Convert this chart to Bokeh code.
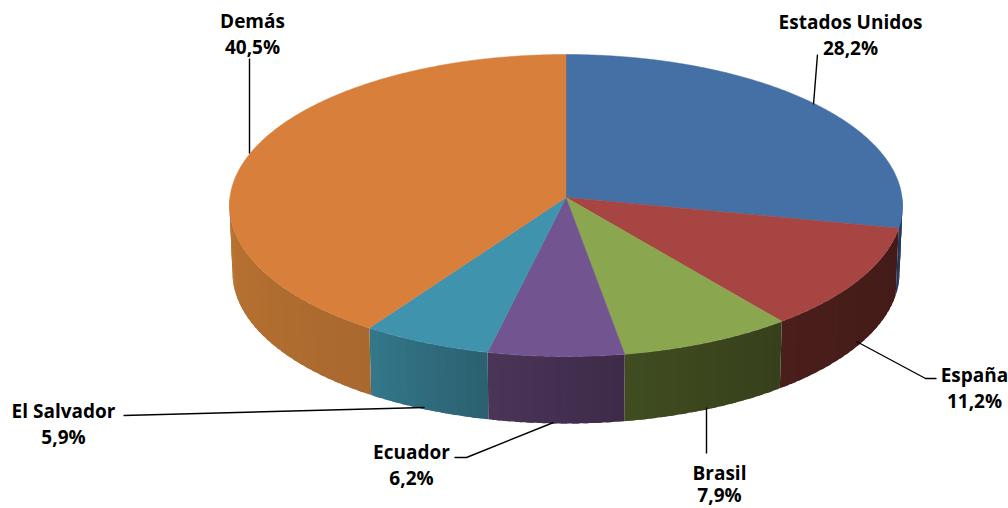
import math
from bokeh.plotting import figure
from bokeh.models import ColumnDataSource
from bokeh.core.properties import value
from bokeh.embed import file_html
from bokeh.resources import INLINE

categories = ["Estados Unidos", "España", "Brasil", "Ecuador", "El Salvador", "Demás"]
shares = [28.2, 11.2, 7.9, 6.2, 5.9, 40.5]
share_labels = ["28,2%", "11,2%", "7,9%", "6,2%", "5,9%", "40,5%"]
top_colors = ["#4570A6", "#A64541", "#8AA64F", "#725590", "#4093AD", "#D87F3C"]
side_left = ["#22375A", "#4A1E1A", "#404C20", "#4B3558", "#33788A", "#BA7432"]
side_right = ["#22375A", "#431B19", "#36401C", "#3D2B49", "#2B6070", "#A9682E"]

# layout of the projected pie, in page pixels
CX, CY, RX, RY = 565.5, 205.0, 336.5, 151.0
APEX_DY = -8.0
DEPTH = 67.0
BOT_RX = 333.5

label_x = [850, 974, 719, 411, 63, 252]
name_y = [21, 374, 472, 451, 410, 20]
pct_y = [47, 400, 494, 477, 436, 46]
leaders = [
    [(817, 54), (813, 104)],
    [(936, 378), (925, 378), (856, 341)],
    [(706, 453), (706, 407)],
    [(454, 457), (466, 457), (553, 422)],
    [(123, 415), (424, 407)],
    [(249, 58), (249, 153)],
]


def hex2rgb(h):
    return tuple(int(h[i:i + 2], 16) for i in (1, 3, 5))


def mix(a, b, t):
    ca, cb = hex2rgb(a), hex2rgb(b)
    return "#%02x%02x%02x" % tuple(round(ca[i] + (cb[i] - ca[i]) * t) for i in range(3))


def ray(a):
    """Where the ray from the apex at pie angle a meets the rim (relative to the rim's centre)."""
    dx, dy = RX * math.sin(a), -RY * math.cos(a)
    b = 2 * APEX_DY * dy / RY ** 2
    c = APEX_DY ** 2 / RY ** 2 - 1
    t = (-b + math.sqrt(b * b - 4 * c)) / 2
    return t * dx, APEX_DY + t * dy


def top_pt(a):
    x, y = ray(a)
    return CX + x, CY + y


def bot_pt(a):
    x, y = ray(a)
    return CX + x * BOT_RX / RX, CY + y + DEPTH


p = figure(width=1008, height=508, x_range=(0, 1008), y_range=(508, 0),
           output_backend="svg", toolbar_location=None, min_border=0,
           background_fill_color="white", border_fill_color="white")
p.axis.visible = False
p.grid.visible = False
p.outline_line_color = None

total = sum(shares)
edges = [0.0]
for s in shares:
    edges.append(edges[-1] + s / total * 2 * math.pi)

# side wall: only the part of each slice that faces the viewer, in overlapping bands
sx, sy, sc = [], [], []
for i in range(len(shares)):
    a0 = max(edges[i], math.pi / 2)
    a1 = min(edges[i + 1], 3 * math.pi / 2)
    if a1 <= a0:
        continue
    n = max(1, int((a1 - a0) / 0.03))
    step = (a1 - a0) / n
    for k in range(n):
        t0, t1 = a0 + step * k, min(a1, a0 + step * (k + 1.6))
        m = 6
        ts = [t0 + (t1 - t0) * j / m for j in range(m + 1)]
        up = [top_pt(t) for t in ts]
        dn = [bot_pt(t) for t in reversed(ts)]
        sx.append([q[0] for q in up + dn])
        sy.append([q[1] for q in up + dn])
        sc.append(mix(side_right[i], side_left[i], (k + 0.5) / n))
p.patches("x", "y", source=ColumnDataSource(dict(x=sx, y=sy, c=sc)),
          fill_color="c", line_color=None)

# top face
tx, ty = [], []
for i in range(len(shares)):
    n = max(4, int((edges[i + 1] - edges[i]) / 0.01))
    arc = [top_pt(edges[i] + (edges[i + 1] - edges[i]) * k / n) for k in range(n + 1)]
    tx.append([CX] + [q[0] for q in arc])
    ty.append([CY + APEX_DY] + [q[1] for q in arc])
p.patches("x", "y", source=ColumnDataSource(dict(x=tx, y=ty, c=top_colors)),
          fill_color="c", line_color="c", line_width=0.5)

# leader lines
p.multi_line([[q[0] for q in l] for l in leaders], [[q[1] for q in l] for l in leaders],
             line_color="black", line_width=1.4)

# labels
for ys, txt in ((name_y, categories), (pct_y, share_labels)):
    p.text(x=label_x, y=ys, text=txt, text_font=value("Open Sans"), text_font_style="bold",
           text_font_size="19px", text_color="black", text_align="center",
           text_baseline="middle")

open("out.html", "w").write(file_html(p, INLINE))
